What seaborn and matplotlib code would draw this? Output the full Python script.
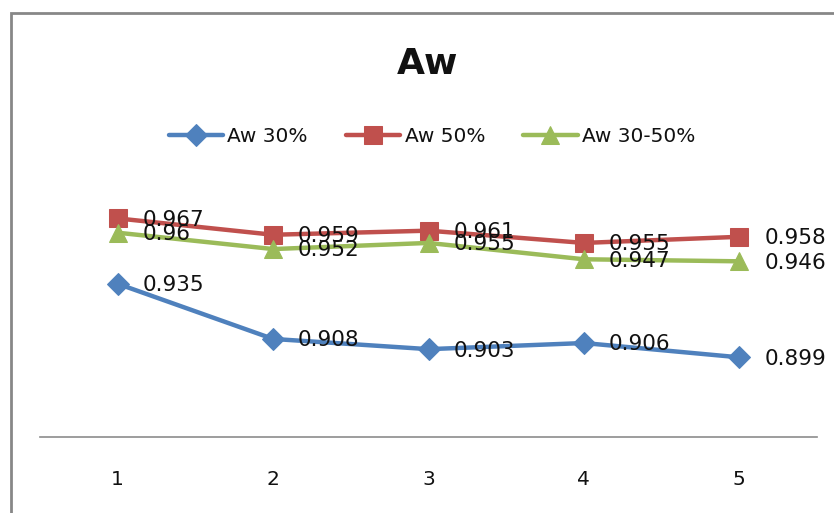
import matplotlib
matplotlib.use('Agg')

import pandas as pd
import matplotlib.pyplot as plt
import matplotlib.patches as patches
import seaborn as sns

# data
categories = [1, 2, 3, 4, 5]
aw30 = [0.935, 0.908, 0.903, 0.906, 0.899]
aw50 = [0.967, 0.959, 0.961, 0.955, 0.958]
aw3050 = [0.96, 0.952, 0.955, 0.947, 0.946]
series_names = ['Aw 30%', 'Aw 50%', 'Aw 30-50%']
colors = ['#4F81BD', '#C0504D', '#9BBB59']
markers = ['D', 's', '^']
msizes = [11.5, 12.5, 13.5]

df = pd.DataFrame({'x': categories, series_names[0]: aw30,
                   series_names[1]: aw50, series_names[2]: aw3050})
long_df = df.melt(id_vars='x', var_name='series', value_name='value')

sns.set_style('white')
plt.rcParams['font.family'] = ['DejaVu Sans']

fig = plt.figure(figsize=(8.34, 5.13), dpi=100)
ax = fig.add_axes([40 / 834, 76 / 513, 777 / 834, 286 / 513])

for name, col, mk, ms in zip(series_names, colors, markers, msizes):
    sub = long_df[long_df['series'] == name]
    sns.lineplot(data=sub, x='x', y='value', ax=ax, color=col, linewidth=3.2,
                 marker=mk, markersize=ms, markeredgecolor=col, label=name,
                 legend=False)
    for xv, yv in zip(sub['x'], sub['value']):
        ax.annotate(f'{yv:g}', (xv, yv), xytext=(18, -1), textcoords='offset points',
                    ha='left', va='center', fontsize=15.5, color='#111111')

ax.set_xlim(0.5, 5.5)
ax.set_ylim(0.86, 1.0)
ax.set_xticks(categories)
ax.set_xticklabels([str(c) for c in categories], fontsize=14.5, color='#111111')
ax.set_yticks([])
ax.set_xlabel('')
ax.set_ylabel('')
for s in ['left', 'right', 'top']:
    ax.spines[s].set_visible(False)
ax.spines['bottom'].set_color('#8c8c8c')
ax.spines['bottom'].set_linewidth(1.2)
ax.tick_params(axis='x', length=0, pad=24)

handles, labels = ax.get_legend_handles_labels()
fig.legend(handles, labels, loc='center', bbox_to_anchor=(432 / 834, 1 - 137 / 513),
           ncol=3, frameon=False, fontsize=14.5, handlelength=2.7, columnspacing=1.9,
           handletextpad=0.2, labelcolor='#111111')

fig.text(428 / 834, 1 - 64 / 513, 'Aw', ha='center', va='center',
         fontsize=26, fontweight='bold', color='#111111')

# chart border
fig.patches.append(patches.Rectangle((11 / 834, -0.1), 1.2, 1.1 - 13 / 513,
                                     transform=fig.transFigure, fill=False,
                                     edgecolor='#878787', linewidth=2))

fig.savefig('out.png', dpi=100)
